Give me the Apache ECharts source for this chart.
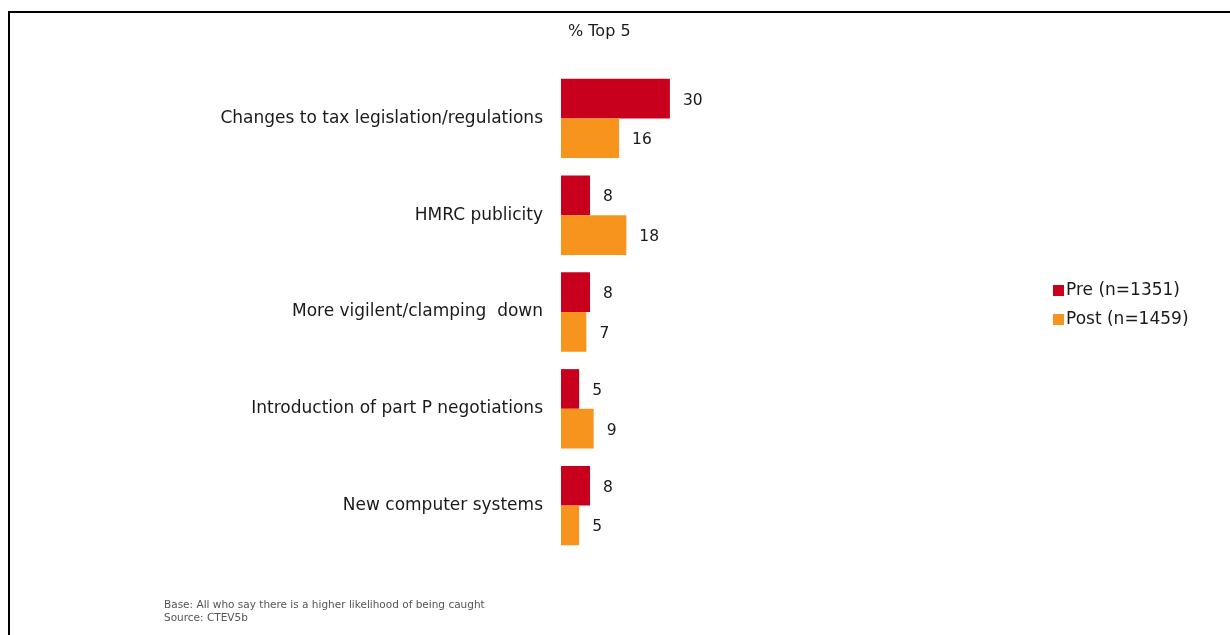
<!DOCTYPE html>
<html>
<head>
<meta charset="utf-8">
<style>
  html, body { margin: 0; padding: 0; background: #fff; }
  #chart { width: 1230px; height: 635px; }
</style>
<script src="https://cdn.jsdelivr.net/npm/echarts@6/dist/echarts.min.js"></script>
</head>
<body>
<div id="chart"></div>
<script>
// Reasons given, top to bottom
const categories = [
  'Changes to tax legislation/regulations',
  'HMRC publicity',
  'More vigilent/clamping  down',
  'Introduction of part P negotiations',
  'New computer systems'
];
const preValues = [30, 8, 8, 5, 8];
const postValues = [16, 18, 7, 9, 5];
const seriesNames = ['Pre (n=1351)', 'Post (n=1459)'];
const chartTitle = '% Top 5';
const footnotes = [
  'Base: All who say there is a higher likelihood of being caught',
  'Source: CTEV5b'
];

const FONT = 'DejaVu Sans';
const RED = '#C8001E';
const ORANGE = '#F7941D';
const INK = '#1a1a1a';

const chart = echarts.init(document.getElementById('chart'));

const valueLabel = {
  show: true,
  position: 'right',
  distance: 13,
  offset: [0, 2],
  color: INK,
  fontFamily: FONT,
  fontSize: 15.5
};

chart.setOption({
  animation: false,
  title: {
    text: chartTitle,
    left: 563,
    top: 19,
    textStyle: { fontFamily: FONT, fontSize: 16, fontWeight: 'normal', color: INK }
  },
  legend: {
    orient: 'vertical',
    left: 1048,
    top: 277,
    itemWidth: 11,
    itemHeight: 11,
    itemGap: 12,
    icon: 'rect',
    textStyle: { fontFamily: FONT, fontSize: 17, color: INK, padding: [0, 0, 0, -3] },
    data: seriesNames
  },
  grid: {
    left: 561,
    top: 70,
    width: 363,
    height: 484,
    containLabel: false
  },
  xAxis: {
    type: 'value',
    min: 0,
    max: 100,
    show: false
  },
  yAxis: {
    type: 'category',
    inverse: true,
    data: categories,
    axisLine: { show: false },
    axisTick: { show: false },
    axisLabel: { margin: 18, color: INK, fontFamily: FONT, fontSize: 17, padding: [3, 0, 0, 0] }
  },
  series: [
    {
      name: seriesNames[0],
      type: 'bar',
      data: preValues,
      barGap: '0%',
      barCategoryGap: '18%',
      itemStyle: { color: RED },
      label: valueLabel
    },
    {
      name: seriesNames[1],
      type: 'bar',
      data: postValues,
      barGap: '0%',
      barCategoryGap: '18%',
      itemStyle: { color: ORANGE },
      label: valueLabel
    }
  ],
  graphic: [
    // frame lines along the top and left edge
    { type: 'rect', shape: { x: 8, y: 11, width: 1222, height: 2 }, style: { fill: '#000' } },
    { type: 'rect', shape: { x: 8, y: 11, width: 2, height: 624 }, style: { fill: '#000' } },
    {
      type: 'text', left: 164, top: 599,
      style: { text: footnotes.join('\n'), fontFamily: FONT, fontSize: 10.5, lineHeight: 13, fill: '#555' }
    }
  ]
});
</script>
</body>
</html>
